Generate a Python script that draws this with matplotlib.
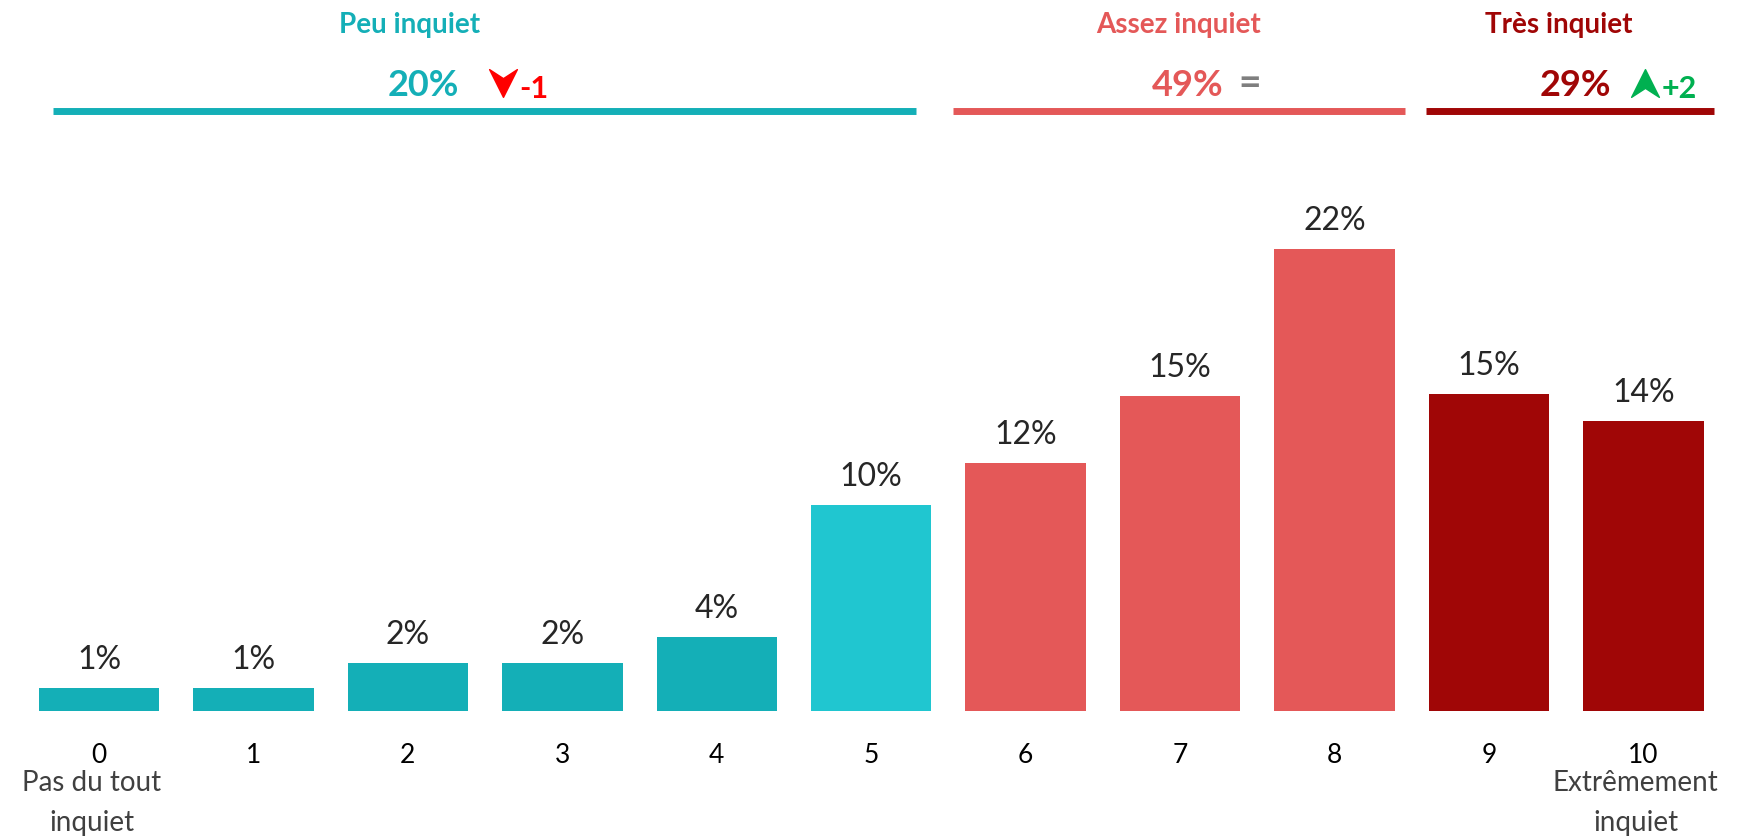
import numpy as np
import matplotlib.pyplot as plt
from matplotlib.path import Path

# data
scores = ['0', '1', '2', '3', '4', '5', '6', '7', '8', '9', '10']
shares = [1.1, 1.1, 2.3, 2.3, 3.5, 9.8, 11.8, 15.0, 22.0, 15.1, 13.8]
share_labels = ['1%', '1%', '2%', '2%', '4%', '10%', '12%', '15%', '22%', '15%', '14%']
bar_colors = ['#14AFB7'] * 5 + ['#20C6D0'] + ['#E45858'] * 3 + ['#A00606'] * 2

group_names = ['Peu inquiet', 'Assez inquiet', 'Très inquiet']
group_totals = ['20%', '49%', '29%']
group_changes = ['-1', '=', '+2']
group_colors = ['#14AFB7', '#E45858', '#A00606']
end_labels = ['Pas du tout\ninquiet', 'Extrêmement\ninquiet']

plt.rcParams['font.family'] = ['Lato', 'DejaVu Sans']

H = 837
AX_B, AX_H = 0.1493, 0.693
fig = plt.figure(figsize=(17.46, 8.37), dpi=100)
ax = fig.add_axes([0, AX_B, 1, AX_H])
x = np.arange(len(scores))
ax.bar(x, shares, width=0.78, color=bar_colors)
ax.set_xlim(-0.641, 10.664)
ax.set_ylim(0, 27.6)
for s in ax.spines.values():
    s.set_visible(False)
ax.set_yticks([])
ax.set_xticks(x)
ax.set_xticklabels(scores, fontsize=19, color='black')
ax.tick_params(axis='x', length=0, pad=22.5)

for xi, v, lab in zip(x, shares, share_labels):
    ax.annotate(lab, xy=(xi, v), xytext=(0, 14), textcoords='offset pixels',
                ha='center', va='bottom', fontsize=23, color='#262626')

# end-of-scale captions
ax.annotate(end_labels[0], xy=(0, 0), xytext=(-7, -91), textcoords='offset pixels',
            ha='center', va='center', fontsize=20, color='#404040', linespacing=1.7)
ax.annotate(end_labels[1], xy=(10, 0), xytext=(-8, -91), textcoords='offset pixels',
            ha='center', va='center', fontsize=20, color='#404040', linespacing=1.7)

# header blocks
line_spans = [(-0.298, 5.29), (5.53, 8.456), (8.59, 10.46)]
name_x = [2.01, 6.99, 9.45]
total_x = [2.10, 7.05, 9.56]
tr = ax.get_xaxis_transform()


def fig_y(top_px):
    # pixel measured from the top of the figure -> axes fraction
    return ((H - top_px) - AX_B * H) / (AX_H * H)


down = Path([(-1, 1), (0, -1), (1, 1), (0, 0.35), (-1, 1)],
            [Path.MOVETO, Path.LINETO, Path.LINETO, Path.LINETO, Path.CLOSEPOLY])
up = Path([(-1, -1), (0, 1), (1, -1), (0, -0.35), (-1, -1)],
          [Path.MOVETO, Path.LINETO, Path.LINETO, Path.LINETO, Path.CLOSEPOLY])

for i in range(3):
    c = group_colors[i]
    ax.plot(line_spans[i], [fig_y(112)] * 2, color=c, lw=5,
            transform=tr, clip_on=False, solid_capstyle='butt')
    ax.text(name_x[i], fig_y(25), group_names[i], transform=tr, ha='center',
            va='center', fontsize=20, fontweight='bold', color=c)
    ax.text(total_x[i], fig_y(86), group_totals[i], transform=tr, ha='center',
            va='center', fontsize=26, fontweight='bold', color=c)

# change markers
ax.plot([2.616], [fig_y(84)], marker=down, markersize=20, color='#FF0000',
        transform=tr, clip_on=False, linestyle='none')
ax.text(2.72, fig_y(89), group_changes[0], transform=tr, ha='left', va='center',
        fontsize=22, fontweight='bold', color='#FF0000')
ax.text(7.38, fig_y(84), group_changes[1], transform=tr, ha='left', va='center',
        fontsize=28, fontweight='bold', color='#7F7F7F')
ax.plot([10.01], [fig_y(84)], marker=up, markersize=20, color='#00B050',
        transform=tr, clip_on=False, linestyle='none')
ax.text(10.12, fig_y(89), group_changes[2], transform=tr, ha='left', va='center',
        fontsize=22, fontweight='bold', color='#00B050')

fig.savefig('out.png', dpi=100)
